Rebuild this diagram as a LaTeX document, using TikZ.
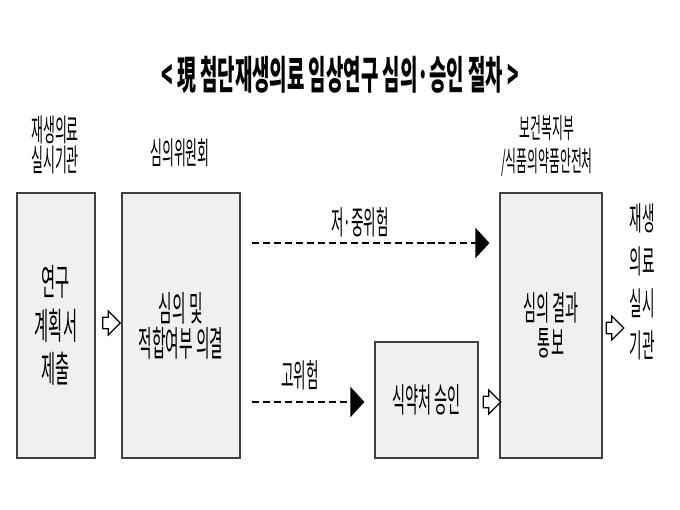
\documentclass[tikz,border=0pt]{standalone}
\usepackage{fontspec}
\usetikzlibrary{arrows.meta,positioning,calc,shapes.arrows}
\newfontfamily\ttlfont[FakeStretch=0.48]{Noto Sans CJK KR}
\newfontfamily\krfont[FakeStretch=0.42]{Noto Sans CJK KR}
\newcommand{\kr}[2]{\krfont\fontsize{#1}{#2}\selectfont}

\begin{document}
\begin{tikzpicture}[x=0.025cm, y=-0.025cm,
        >={Triangle[length=3.5mm,width=7.5mm]},
        stage/.style={draw=black!75, line width=1pt, fill=black!6, align=center,
            font=\kr{24}{25}},
        who/.style={align=center, font=\kr{22}{21}},
        risk/.style={font=\kr{23}{24}},
        riskline/.style={->, line width=1.4pt, dash pattern=on 5pt off 2.8pt},
        hollow/.style={single arrow, draw=black, line width=0.9pt, fill=white,
            inner sep=1.3mm, minimum height=4mm, single arrow head extend=1.5mm}]
        \useasboundingbox (0,0) rectangle (680,510);

        % Title
        \node (title) at (340,75) {\ttlfont\bfseries\fontsize{28}{30}\selectfont < 現 첨단재생의료 임상연구 심의·승인 절차 >};

        % Stage boxes
        \node[stage, font=\kr{26}{31}, minimum width=1.95cm, minimum height=6.625cm] (plan) at (56,325.5) {연구\\계획서\\제출};
        \node[stage, font=\kr{25}{25}, minimum width=2.95cm, minimum height=6.625cm] (review) at (181,325.5) {심의 및\\적합여부 의결};
        \node[stage, minimum width=2.575cm, minimum height=2.9cm] (mfds) at (426.5,400) {식약처 승인};
        \node[stage, minimum width=2.55cm, minimum height=6.625cm] (notice) at (551,325.5) {심의 결과\\통보};

        % Who does it
        \node[who] (inst) at (55,145) {재생의료\\실시기관};
        \node[who] (board) at (180,153) {심의위원회};
        \node[who, font=\kr{20}{23}] (gov) at (547,146) {보건복지부\\/식품의약품안전처};
        \node[who, font=\kr{23}{30}] (inst2) at (642,282) {재생\\의료\\실시\\기관};

        % Risk routes
        \coordinate (lowmid) at (252,243);
        \coordinate (high) at (252,402);
        \draw[riskline, shorten >=5\pgflinewidth] (lowmid) -- (notice.west |- lowmid);
        \draw[riskline, shorten >=5\pgflinewidth] (high) -- (mfds.west |- high);
        \node[risk] (lowlab) at (360,222) {저·중위험};
        \node[risk] (highlab) at (300,375) {고위험};

        % Hollow arrows
        \node[hollow] (a1) at (108.5,323) {};
        \node[hollow] (a2) at (489,402) {};
        \node[hollow] (a3) at (612,328) {};
    \end{tikzpicture}
\end{document}
